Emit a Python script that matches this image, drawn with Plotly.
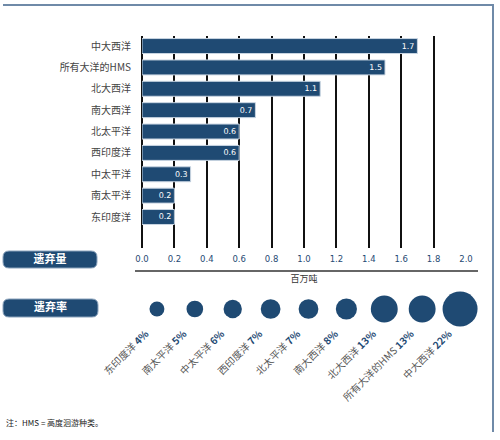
import plotly.graph_objects as go

# discarded quantity (million tonnes), top to bottom
oceans = ["中大西洋", "所有大洋的HMS", "北大西洋", "南大西洋", "北太平洋",
          "西印度洋", "中太平洋", "南太平洋", "东印度洋"]
discards = [1.7, 1.5, 1.1, 0.7, 0.6, 0.6, 0.3, 0.2, 0.2]
x_ticks = [0.0, 0.2, 0.4, 0.6, 0.8, 1.0, 1.2, 1.4, 1.6, 1.8, 2.0]

# discard rate (%), left to right
rate_oceans = ["东印度洋", "南太平洋", "中太平洋", "西印度洋", "北太平洋",
               "南大西洋", "北大西洋", "所有大洋的HMS", "中大西洋"]
rates = [4, 5, 6, 7, 7, 8, 13, 13, 22]

NAVY = "#1f4a73"
W, H = 500, 440


def px(x):
    return x / W


def py(y):
    return 1 - y / H


def pill(x0, y0, x1, y1, r=6):
    # rounded rectangle path in paper coords from pixel corners
    pts = [
        f"M {px(x0 + r)} {py(y0)}",
        f"L {px(x1 - r)} {py(y0)}",
        f"Q {px(x1)} {py(y0)} {px(x1)} {py(y0 + r)}",
        f"L {px(x1)} {py(y1 - r)}",
        f"Q {px(x1)} {py(y1)} {px(x1 - r)} {py(y1)}",
        f"L {px(x0 + r)} {py(y1)}",
        f"Q {px(x0)} {py(y1)} {px(x0)} {py(y1 - r)}",
        f"L {px(x0)} {py(y0 + r)}",
        f"Q {px(x0)} {py(y0)} {px(x0 + r)} {py(y0)}",
        "Z",
    ]
    return " ".join(pts)


fig = go.Figure()

fig.add_trace(go.Bar(
    x=discards, y=oceans, orientation="h",
    width=0.7,
    marker=dict(color=NAVY, line=dict(color="#c9d5e2", width=1)),
    text=[f"{v:.1f}" for v in discards],
    textposition="inside", insidetextanchor="end",
    textfont=dict(color="white", size=8, family="DejaVu Sans"),
    cliponaxis=False,
    xaxis="x", yaxis="y",
))

# circle diameter grows with the square root of the rate (area ~ rate)
max_d = 35
diam = [max_d * (r / max(rates)) ** 0.5 for r in rates]
fig.add_trace(go.Scatter(
    x=rate_oceans, y=[0.5] * len(rates), mode="markers",
    marker=dict(size=diam, sizemode="diameter", opacity=1,
                color=NAVY, line=dict(width=0)),
    cliponaxis=False,
    xaxis="x2", yaxis="y2",
))

pad = "\u00a0" * 7
rate_text = [f"<span style='color:#555555'>{n}</span> "
             f"<span style='color:{NAVY}'><b>{r}%</b></span>{pad}"
             for n, r in zip(rate_oceans, rates)]

pill_font = dict(size=11, color="white", family="Noto Sans CJK SC")

fig.update_layout(
    width=W, height=H,
    margin=dict(l=0, r=0, t=0, b=0, autoexpand=False),
    paper_bgcolor="white", plot_bgcolor="white",
    showlegend=False,
    font=dict(family="Noto Sans CJK SC", color="#444444"),
    xaxis=dict(
        domain=[px(142), px(466)], range=[0, 2.0],
        tickvals=x_ticks, ticktext=[f"{v:.1f}" for v in x_ticks],
        tickfont=dict(size=8.5, color=NAVY, family="DejaVu Sans"),
        showgrid=True, gridcolor="#111111", gridwidth=1.5,
        zeroline=True, zerolinecolor="#111111", zerolinewidth=1.5,
        showline=False, ticks="", ticklabelstandoff=4,
        title=dict(text="百万吨", font=dict(size=9, color="#333333"), standoff=13),
        anchor="y", automargin=False,
    ),
    yaxis=dict(
        domain=[py(248), py(36)], range=[len(oceans) - 1 + 1.45, -0.47],
        tickfont=dict(size=10, color="#444444"),
        showgrid=False, zeroline=False, showline=False, ticks="",
        ticklabelstandoff=10, anchor="x", automargin=False,
    ),
    xaxis2=dict(
        domain=[px(138), px(479)], range=[-0.5, 8.5],
        tickvals=rate_oceans, ticktext=rate_text, tickangle=-45,
        tickfont=dict(size=10, color="#555555"),
        showgrid=False, zeroline=False, showline=False, ticks="",
        anchor="y2", automargin=False,
    ),
    yaxis2=dict(
        domain=[py(314), py(304)], range=[0, 1],
        visible=False, anchor="x2", automargin=False,
    ),
    shapes=[
        dict(type="line", xref="paper", yref="paper",
             x0=px(3), x1=px(494), y0=py(5), y1=py(5),
             line=dict(color="#6f8aa8", width=2)),
        dict(type="line", xref="paper", yref="paper",
             x0=px(493), x1=px(493), y0=py(5), y1=py(432),
             line=dict(color="#6f8aa8", width=2)),
        dict(type="line", xref="paper", yref="paper",
             x0=px(135), x1=px(478), y0=py(271), y1=py(271),
             line=dict(color="#333333", width=1.5)),
        dict(type="path", xref="paper", yref="paper",
             path=pill(3, 251, 97, 268), fillcolor=NAVY,
             line=dict(color="#8aa2bc", width=1),
             label=dict(text="<b>遗弃量</b>", font=pill_font,
                        textposition="middle center")),
        dict(type="path", xref="paper", yref="paper",
             path=pill(3, 299, 98, 317), fillcolor=NAVY,
             line=dict(color="#8aa2bc", width=1),
             label=dict(text="<b>遗弃率</b>", font=pill_font,
                        textposition="middle center")),
    ],
    annotations=[
        dict(text="注：HMS = 高度洄游种类。", x=px(4), y=py(430), xref="paper", yref="paper",
             xanchor="left", showarrow=False, font=dict(size=8, color="#222222")),
    ],
)

# the page body has a default 8px margin; drop it so the figure sits at 0,0
fig.write_html("out.html", config={"displayModeBar": False},
               post_script="document.body.style.margin='0';")
